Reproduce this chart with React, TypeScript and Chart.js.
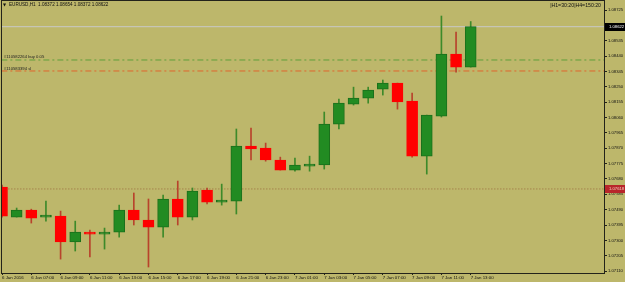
import { useEffect, useRef } from "react";
import { Chart, registerables } from "chart.js";

Chart.register(...registerables);

// ---- data ----
const timeLabels = [
  "6 Jan 2016", "6 Jan 07:00", "6 Jan 09:00", "6 Jan 11:00", "6 Jan 13:00",
  "6 Jan 15:00", "6 Jan 17:00", "6 Jan 19:00", "6 Jan 21:00", "6 Jan 23:00",
  "7 Jan 01:00", "7 Jan 03:00", "7 Jan 05:00", "7 Jan 07:00", "7 Jan 09:00",
  "7 Jan 11:00", "7 Jan 13:00",
];

const opens = [
  1.0763, 1.07444, 1.07487, 1.07444, 1.0745, 1.0729, 1.07351, 1.07339, 1.07351, 1.07487,
  1.07426, 1.07382, 1.07556, 1.07444, 1.07611, 1.07537, 1.07543, 1.07883, 1.07871, 1.07797,
  1.07735, 1.07759, 1.07766, 1.08019, 1.08143, 1.0818, 1.08236, 1.08273, 1.08162, 1.07821,
  1.08069, 1.08453, 1.08372,
];
const highs = [
  1.07642, 1.075, 1.07493, 1.07543, 1.07481, 1.07419, 1.07364, 1.07376, 1.07518, 1.07593,
  1.07556, 1.0758, 1.07667, 1.07624, 1.07624, 1.07648, 1.07989, 1.07995, 1.07902, 1.07815,
  1.07809, 1.07821, 1.08094, 1.08174, 1.08248, 1.08248, 1.08292, 1.08273, 1.08211, 1.08075,
  1.08688, 1.08589, 1.08654,
];
const lows = [
  1.07444, 1.07444, 1.07407, 1.07419, 1.07184, 1.07234, 1.07197, 1.07246, 1.0732, 1.07395,
  1.07135, 1.0732, 1.07395, 1.07426, 1.07525, 1.07518, 1.07463, 1.07797, 1.0779, 1.07735,
  1.07728, 1.07728, 1.07741, 1.07989, 1.08137, 1.08149, 1.08199, 1.08112, 1.07815, 1.0771,
  1.08063, 1.08341, 1.08372,
];
const closes = [
  1.0745, 1.07487, 1.07438, 1.0745, 1.0729, 1.07351, 1.07339, 1.07351, 1.07487, 1.07426,
  1.07382, 1.07556, 1.07444, 1.07605, 1.07537, 1.07549, 1.07883, 1.07865, 1.07797, 1.07735,
  1.07766, 1.07772, 1.08019, 1.08149, 1.0818, 1.0823, 1.08273, 1.08156, 1.07821, 1.08075,
  1.08453, 1.08372, 1.08622,
];

const priceTicks = [
  1.0711, 1.07205, 1.073, 1.07395, 1.0749, 1.07585, 1.0768, 1.07775, 1.0787, 1.07965,
  1.0806, 1.08155, 1.0825, 1.08345, 1.0844, 1.08535, 1.0863, 1.08725,
];
const bidPrice = 1.08622;
const buyPrice = 1.08416;
const slPrice = 1.08348;
const markPrice = 1.07618;
const titleText = "EURUSD,H1  1.08372 1.08654 1.08372 1.08622";
const timerText = "|H1=30:20|H4=150:20";
const buyLabel = "#110582264 buy 0.05";
const slLabel = "#110583394 sl";

// ---- style ----
const BG = "#BDB76B";
const FRAME = "#23231a";
const UP = "#228B22";
const UP_BORDER = "#1b6f1b";
const DOWN = "#FF0000";
const UP_WICK = "#3d8a2a";
const DOWN_WICK = "#b8432c";
const FONT = "'Liberation Sans', Arial, sans-serif";
const X_MAX = 41.1;

const isUp = (i: number) => closes[i] >= opens[i];

const mt4Plugin = {
  id: "mt4",
  beforeDraw(chart: any) {
    const { ctx, width, height } = chart;
    ctx.save();
    ctx.fillStyle = BG;
    ctx.fillRect(0, 0, width, height);
    ctx.restore();
  },
  afterDraw(chart: any) {
    const { ctx, chartArea: a, width } = chart;
    const ys = chart.scales.y;
    ctx.save();
    // frame
    ctx.strokeStyle = FRAME;
    ctx.lineWidth = 1;
    ctx.strokeRect(a.left - 0.5, a.top - 0.5, a.right - a.left + 1, a.bottom - a.top + 1);

    // top texts
    ctx.fillStyle = "#111";
    ctx.textBaseline = "middle";
    ctx.textAlign = "left";
    ctx.font = `4px 'DejaVu Sans', sans-serif`;
    ctx.fillText("\u25BC", 3, 5);
    ctx.font = `4.6px ${FONT}`;
    ctx.fillText(titleText, 9, 5);
    ctx.font = `5.2px ${FONT}`;
    ctx.textAlign = "right";
    ctx.fillText(timerText, a.right - 3, 5.5);

    // order labels
    ctx.textAlign = "left";
    ctx.textBaseline = "bottom";
    ctx.font = `4.2px ${FONT}`;
    ctx.fillStyle = "#222";
    ctx.fillText(buyLabel, a.left + 2, ys.getPixelForValue(buyPrice) - 1);
    ctx.fillText(slLabel, a.left + 2, ys.getPixelForValue(slPrice) - 0.5);

    // price boxes on axis
    const box = (price: number, bg: string, fg: string) => {
      const py = ys.getPixelForValue(price);
      ctx.fillStyle = bg;
      ctx.fillRect(a.right + 1, Math.round(py) - 4, width - a.right - 1, 8);
      ctx.fillStyle = fg;
      ctx.textBaseline = "middle";
      ctx.textAlign = "left";
      ctx.font = `4.2px ${FONT}`;
      ctx.fillText(price.toFixed(5), a.right + 5, py);
    };
    box(bidPrice, "#000000", "#ffffff");
    box(markPrice, "#b8262a", "#f0d0c0");
    ctx.restore();
  },
};

export default function App() {
  const ref = useRef<HTMLCanvasElement | null>(null);

  useEffect(() => {
    if (!ref.current) return;
    const bodies = opens.map((o, i) => ({ x: i, y: [o, closes[i]] }));
    const wicks = lows.map((l, i) => ({ x: i, y: [l, highs[i]] }));
    const hline = (p: number) => [
      { x: -1, y: p },
      { x: X_MAX + 1, y: p },
    ];

    const chart = new Chart(ref.current, {
      type: "bar",
      data: {
        datasets: [
          {
            type: "bar",
            label: "body",
            data: bodies as any,
            backgroundColor: opens.map((_, i) => (isUp(i) ? UP : DOWN)),
            borderColor: opens.map((_, i) => (isUp(i) ? UP_BORDER : DOWN)),
            borderWidth: 1,
            borderSkipped: false,
            barThickness: 11,
            minBarLength: 2,
            grouped: false,
            order: 1,
          } as any,
          {
            type: "bar",
            label: "wick",
            data: wicks as any,
            backgroundColor: opens.map((_, i) => (isUp(i) ? UP_WICK : DOWN_WICK)),
            borderWidth: 0,
            barThickness: 1,
            grouped: false,
            order: 2,
          } as any,
          {
            type: "line",
            label: "bid",
            data: hline(bidPrice) as any,
            borderColor: "#c8c8c8",
            borderWidth: 1,
            pointRadius: 0,
            order: 3,
          } as any,
          {
            type: "line",
            label: "buy",
            data: hline(buyPrice) as any,
            borderColor: "#5f9e3a",
            borderWidth: 1,
            borderDash: [6, 3, 2, 3],
            pointRadius: 0,
            order: 3,
          } as any,
          {
            type: "line",
            label: "sl",
            data: hline(slPrice) as any,
            borderColor: "#e0652e",
            borderWidth: 1,
            borderDash: [6, 3, 2, 3],
            pointRadius: 0,
            order: 3,
          } as any,
          {
            type: "line",
            label: "mark",
            data: hline(markPrice) as any,
            borderColor: "#9a6a3c",
            borderWidth: 1,
            borderDash: [1, 2],
            pointRadius: 0,
            order: 3,
          } as any,
        ],
      },
      options: {
        animation: false,
        responsive: false,
        maintainAspectRatio: false,
        layout: { padding: { left: 2, top: 1, right: 0, bottom: 0 } },
        plugins: { legend: { display: false }, tooltip: { enabled: false }, title: { display: false } },
        scales: {
          x: {
            type: "linear",
            position: "bottom",
            offset: false,
            min: 0,
            max: X_MAX,
            border: { display: false },
            grid: { offset: false, drawOnChartArea: false, drawTicks: true, tickLength: 2, color: FRAME },
            ticks: {
              autoSkip: false,
              maxRotation: 0,
              minRotation: 0,
              align: "start",
              padding: 0,
              color: "#111",
              font: { size: 4.4, family: FONT },
              callback: (v: any) => timeLabels[Math.round(Number(v) / 2)] ?? "",
            },
            afterBuildTicks: (s: any) => {
              s.ticks = timeLabels.map((_, k) => ({ value: k * 2 }));
            },
            afterFit: (s: any) => {
              s.height = 9;
              s.paddingLeft = 0;
              s.paddingRight = 0;
            },
          },
          y: {
            type: "linear",
            position: "right",
            min: 1.07098,
            max: 1.08781,
            border: { display: false },
            grid: { drawOnChartArea: false, drawTicks: true, tickLength: 3, color: FRAME },
            ticks: {
              padding: 1,
              color: "#111",
              font: { size: 4.2, family: FONT },
              callback: (v: any) => Number(v).toFixed(5),
            },
            afterBuildTicks: (s: any) => {
              s.ticks = priceTicks.map((p) => ({ value: p }));
            },
            afterFit: (s: any) => {
              s.width = 21;
              s.paddingTop = 0;
              s.paddingBottom = 0;
            },
          },
        },
      } as any,
      plugins: [mt4Plugin],
    });
    return () => chart.destroy();
  }, []);

  return (
    <div style={{ position: "absolute", left: 0, top: 0, width: 625, height: 282 }}>
      <canvas ref={ref} width={625} height={282} style={{ display: "block", width: 625, height: 282 }} />
    </div>
  );
}
